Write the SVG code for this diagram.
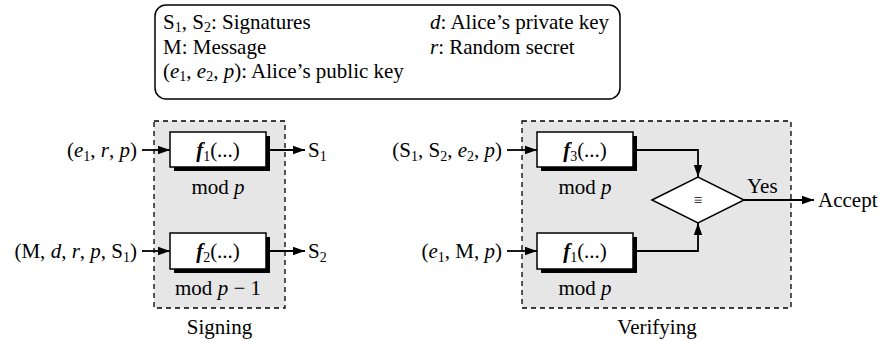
<svg xmlns="http://www.w3.org/2000/svg" width="884" height="341" viewBox="0 0 884 341">
<defs>
<style>
text{font-family:"Liberation Serif","Times New Roman",serif;font-size:21px;fill:#000}
.it{font-style:italic}
.fb{font-style:italic;font-weight:bold}
.sub{font-size:14px}
.grp{fill:#e6e6e6;stroke:#000;stroke-width:1.3;stroke-dasharray:5,4}
.box{fill:#fff;stroke:#000;stroke-width:1.5}
.shadow{fill:#000}
.ln{fill:none;stroke:#000;stroke-width:1.8}
</style>
<marker id="ah" markerWidth="13" markerHeight="10" refX="12" refY="5" orient="auto" markerUnits="userSpaceOnUse">
<path d="M0,0.8 L12,5 L0,9.2 Z" fill="#000"/>
</marker>
</defs>
<rect width="884" height="341" fill="#fff"/>

<g id="legend">
<rect x="155" y="5" width="465" height="94" rx="11" fill="#fff" stroke="#000" stroke-width="1.5"/>
<text x="163" y="29">S<tspan class="sub" dy="3">1</tspan><tspan dy="-3">, S</tspan><tspan class="sub" dy="3">2</tspan><tspan dy="-3">: Signatures</tspan></text>
<text x="163" y="54">M: Message</text>
<text x="163" y="78">(<tspan class="it">e</tspan><tspan class="sub" dy="3">1</tspan><tspan dy="-3">, </tspan><tspan class="it">e</tspan><tspan class="sub" dy="3">2</tspan><tspan dy="-3">, </tspan><tspan class="it">p</tspan>): Alice’s public key</text>
<text x="430" y="29"><tspan class="it">d</tspan>: Alice’s private key</text>
<text x="430" y="54"><tspan class="it">r</tspan>: Random secret</text>
</g>

<g id="signing">
<rect class="grp" x="154" y="121" width="131" height="187"/>
<text x="219.5" y="334" text-anchor="middle">Signing</text>
</g>

<g id="verifying">
<rect class="grp" x="522" y="121" width="269" height="187"/>
<text x="657" y="334" text-anchor="middle">Verifying</text>
</g>

<g id="f1-sign">
<rect class="shadow" x="174" y="136" width="96" height="35"/>
<rect class="box" x="170" y="132" width="96" height="35"/>
<text x="218" y="157" text-anchor="middle"><tspan class="fb">f</tspan><tspan class="sub" dy="4">1</tspan><tspan dy="-4">(...)</tspan></text>
<text x="218" y="194" text-anchor="middle">mod <tspan class="it">p</tspan></text>
</g>

<g id="f2-sign">
<rect class="shadow" x="174" y="237" width="96" height="36"/>
<rect class="box" x="170" y="233" width="96" height="36"/>
<text x="218" y="258" text-anchor="middle"><tspan class="fb">f</tspan><tspan class="sub" dy="4">2</tspan><tspan dy="-4">(...)</tspan></text>
<text x="218" y="295" text-anchor="middle">mod <tspan class="it">p</tspan> − 1</text>
</g>

<g id="f3-verify">
<rect class="shadow" x="541" y="136" width="96" height="35"/>
<rect class="box" x="537" y="132" width="96" height="35"/>
<text x="585" y="157" text-anchor="middle"><tspan class="fb">f</tspan><tspan class="sub" dy="4">3</tspan><tspan dy="-4">(...)</tspan></text>
<text x="585" y="194" text-anchor="middle">mod <tspan class="it">p</tspan></text>
</g>

<g id="f1-verify">
<rect class="shadow" x="541" y="237" width="96" height="36"/>
<rect class="box" x="537" y="233" width="96" height="36"/>
<text x="585" y="258" text-anchor="middle"><tspan class="fb">f</tspan><tspan class="sub" dy="4">1</tspan><tspan dy="-4">(...)</tspan></text>
<text x="585" y="295" text-anchor="middle">mod <tspan class="it">p</tspan></text>
</g>

<g id="compare">
<polygon points="652,200 698,177 744,200 698,223" fill="#fff" stroke="#000" stroke-width="1.5"/>
<text x="698" y="205" text-anchor="middle" style="font-size:15px">≡</text>
</g>

<g id="labels">
<text x="137" y="157" text-anchor="end">(<tspan class="it">e</tspan><tspan class="sub" dy="4">1</tspan><tspan dy="-4">, </tspan><tspan class="it">r</tspan>, <tspan class="it">p</tspan>)</text>
<text x="137" y="258" text-anchor="end">(M, <tspan class="it">d</tspan>, <tspan class="it">r</tspan>, <tspan class="it">p</tspan>, S<tspan class="sub" dy="4">1</tspan><tspan dy="-4">)</tspan></text>
<text x="308" y="157">S<tspan class="sub" dy="4">1</tspan></text>
<text x="308" y="258">S<tspan class="sub" dy="4">2</tspan></text>
<text x="502" y="157" text-anchor="end">(S<tspan class="sub" dy="4">1</tspan><tspan dy="-4">, S</tspan><tspan class="sub" dy="4">2</tspan><tspan dy="-4">, </tspan><tspan class="it">e</tspan><tspan class="sub" dy="4">2</tspan><tspan dy="-4">, </tspan><tspan class="it">p</tspan>)</text>
<text x="502" y="258" text-anchor="end">(<tspan class="it">e</tspan><tspan class="sub" dy="4">1</tspan><tspan dy="-4">, M, </tspan><tspan class="it">p</tspan>)</text>
<text x="747" y="193">Yes</text>
<text x="818" y="207">Accept</text>
</g>

<g id="connectors">
<path class="ln" d="M142,150 H170" marker-end="url(#ah)"/>
<path class="ln" d="M266,150 H305" marker-end="url(#ah)"/>
<path class="ln" d="M142,251 H170" marker-end="url(#ah)"/>
<path class="ln" d="M266,251 H305" marker-end="url(#ah)"/>
<path class="ln" d="M507,150 H537" marker-end="url(#ah)"/>
<path class="ln" d="M507,251 H537" marker-end="url(#ah)"/>
<path class="ln" d="M633,150 H698 V177" marker-end="url(#ah)"/>
<path class="ln" d="M633,251 H698 V223" marker-end="url(#ah)"/>
<path class="ln" d="M744,200 H814" marker-end="url(#ah)"/>
</g>
</svg>
